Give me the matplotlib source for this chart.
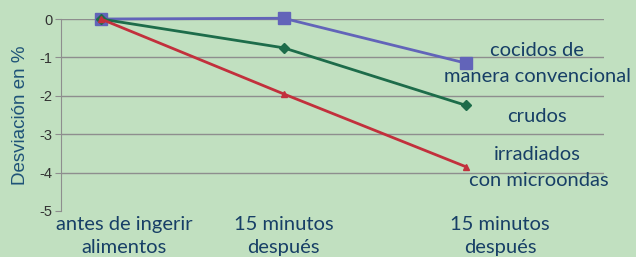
import matplotlib
matplotlib.use("Agg")
import matplotlib.pyplot as plt
import matplotlib.transforms as mtransforms

# Data
CATEGORIES = ["antes de ingerir\nalimentos", "15 minutos\ndespués", "15 minutos\ndespués"]
X = [0, 1, 2]
COCIDOS = [0.0, 0.02, -1.15]
CRUDOS = [0.0, -0.75, -2.25]
IRRADIADOS = [0.0, -1.95, -3.85]
Y_TICKS = [0, -1, -2, -3, -4, -5]

BG = "#c1e0c0"
TEXT_BLUE = "#173f66"
GRID = "#8e8e8e"

fig = plt.figure(figsize=(6.36, 2.57), dpi=100, facecolor=BG)
ax = fig.add_axes([0.0959, 0.179, 0.854, 0.747], facecolor=BG)

ax.plot(X, COCIDOS, color="#6264b9", lw=2.0, marker="s", ms=8, zorder=3, clip_on=False)
ax.plot(X, CRUDOS, color="#1d6c4a", lw=2.0, marker="D", ms=5.5, zorder=3, clip_on=False)
ax.plot(X, IRRADIADOS, color="#c2303c", lw=2.0, marker="^", ms=5, zorder=4, clip_on=False)

ax.set_xlim(-0.219, 2.756)
ax.set_ylim(-5, 0)
ax.set_yticks(Y_TICKS)
ax.set_yticklabels([str(v) for v in Y_TICKS], fontsize=10.5, color="#333333",
                   family="Liberation Sans")
ax.set_xticks([])
for y in Y_TICKS[:-1]:
    ax.axhline(y, color=GRID, lw=1.0, zorder=1)
for s in ["top", "right", "bottom"]:
    ax.spines[s].set_visible(False)
ax.spines["left"].set_color(GRID)
ax.tick_params(axis="y", length=4, color=GRID, pad=2)

ax.set_ylabel("Desviación en %", fontsize=13.5, color="#1f5378",
              family="Liberation Sans", labelpad=8)

# category labels (offset from the points, as in the original)
trans = mtransforms.blended_transform_factory(ax.transData, ax.transAxes)
label_x = [0.126, 1.0, 2.186]
for lx, lab in zip(label_x, CATEGORIES):
    ax.text(lx, -0.025, lab, transform=trans, ha="center", va="top",
            fontsize=14.5, color=TEXT_BLUE, family="Lato", linespacing=1.45)

# series labels on the right
ann = [("cocidos de", 537, 50), ("manera convencional", 537, 77),
       ("crudos", 537, 117), ("irradiados", 537, 155),
       ("con microondas", 539, 181)]
for txt, px, py in ann:
    fig.text(px / 636, 1 - py / 257, txt, ha="center", va="center",
             fontsize=14.5, color=TEXT_BLUE, family="Lato")

fig.savefig("out.png", dpi=100, facecolor=BG)
